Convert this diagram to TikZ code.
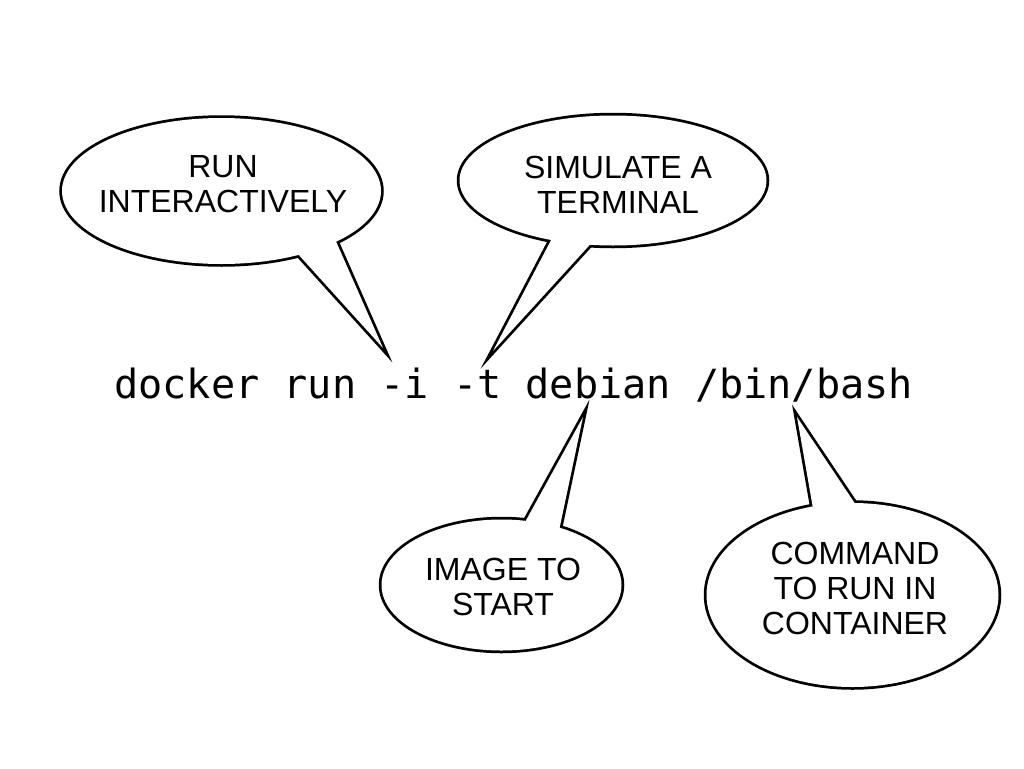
\documentclass[tikz,border=0pt]{standalone}
\usepackage{fontspec}
\setmainfont{Liberation Sans}
\newfontfamily\cmdfont{DejaVu Sans Mono}
\begin{document}
\begin{tikzpicture}[x=1pt,y=-1pt,
  outline/.style={draw=black,line width=5.5pt,line join=miter,miter limit=20},
  inside/.style={fill=white},
  bubbletext/.style={align=center,font=\fontsize{32}{35}\selectfont,inner sep=0pt},
  cmdtext/.style={font=\cmdfont\fontsize{40.2}{44}\selectfont,inner sep=0pt,anchor=base west}]
\useasboundingbox[fill=white] (0,0) rectangle (1024,768);
% tips of the tails
\coordinate (t1) at (383,348);
\coordinate (t2) at (493,351);
\coordinate (t3) at (583,417);
\coordinate (t4) at (797,417);
% bubble centres
\coordinate (c1) at (221.5,191);
\coordinate (c2) at (613,180.5);
\coordinate (c3) at (501.5,585);
\coordinate (c4) at (852.5,595);
% outlines
\path[outline] (c1) ellipse [x radius=159.5pt,y radius=73pt];
\path[outline] (288,243) -- (t1) -- (331,230) -- cycle;
\path[outline] (c2) ellipse [x radius=153.5pt,y radius=65pt];
\path[outline] (560,223) -- (t2) -- (607,226) -- cycle;
\path[outline] (c3) ellipse [x radius=120pt,y radius=65.5pt];
\path[outline] (519,533) -- (t3) -- (556,545) -- cycle;
\path[outline] (c4) ellipse [x radius=146pt,y radius=92pt];
\path[outline] (815,520) -- (t4) -- (866,520) -- cycle;
% fills
\path[inside] (c1) ellipse [x radius=159.5pt,y radius=73pt];
\path[inside] (288,243) -- (t1) -- (331,230) -- cycle;
\path[inside] (c2) ellipse [x radius=153.5pt,y radius=65pt];
\path[inside] (560,223) -- (t2) -- (607,226) -- cycle;
\path[inside] (c3) ellipse [x radius=120pt,y radius=65.5pt];
\path[inside] (519,533) -- (t3) -- (556,545) -- cycle;
\path[inside] (c4) ellipse [x radius=146pt,y radius=92pt];
\path[inside] (815,520) -- (t4) -- (866,520) -- cycle;
% texts
\node[bubbletext] (l1) at (223,184.5) {RUN\\INTERACTIVELY};
\node[bubbletext] (l2) at (618,184.5) {SIMULATE A\\TERMINAL};
\node[bubbletext] (l3) at (503,586.5) {IMAGE TO\\START};
\node[bubbletext] (l4) at (855,588.5) {COMMAND\\TO RUN IN\\CONTAINER};
\node[cmdtext] (cmd) at (114,398) {docker run -i -t debian /bin/bash};
\end{tikzpicture}
\end{document}
